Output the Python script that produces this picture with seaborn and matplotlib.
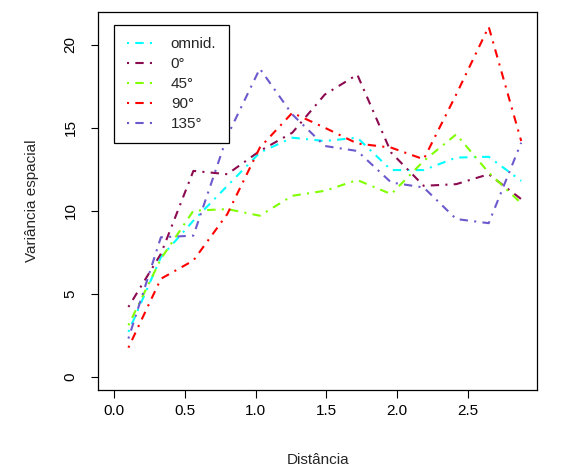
import matplotlib
matplotlib.use("Agg")
import matplotlib.pyplot as plt
import seaborn as sns
import pandas as pd
import numpy as np

# lag distances
lags = [0.10, 0.33, 0.56, 0.80, 1.03, 1.26, 1.49, 1.72, 1.96, 2.19, 2.42, 2.65, 2.88]

omnid = [2.7, 7.2, 9.4, 11.5, 13.5, 14.4, 14.2, 14.4, 12.45, 12.45, 13.2, 13.25, 11.8]
deg0 = [4.2, 7.4, 12.4, 12.2, 13.6, 14.7, 17.0, 18.2, 13.5, 11.5, 11.6, 12.2, 10.7]
deg45 = [3.1, 7.1, 10.0, 10.1, 9.7, 10.9, 11.2, 11.85, 11.0, 13.0, 14.6, 12.3, 10.45]
deg90 = [1.75, 5.9, 7.0, 9.8, 13.8, 15.9, 15.0, 14.05, 13.8, 13.1, 17.0, 21.08, 14.2]
deg135 = [2.3, 8.4, 8.5, 14.5, 18.56, 15.8, 13.9, 13.6, 11.7, 11.4, 9.5, 9.25, 14.1]

labels = ["omnid.", "0\u00b0", "45\u00b0", "90\u00b0", "135\u00b0"]
colors = ["#00FFFF", "#8B0A50", "#7FFF00", "#FF0000", "#6A5ACD"]
series = [omnid, deg0, deg45, deg90, deg135]

xticks = [0.0, 0.5, 1.0, 1.5, 2.0, 2.5]
xticklabels = ["0.0", "0.5", "1.0", "1.5", "2.0", "2.5"]
yticks = [0, 5, 10, 15, 20]
yticklabels = ["0", "5", "10", "15", "20"]

sns.set_theme(style="ticks")
plt.rcParams['font.family'] = ['Liberation Sans', 'DejaVu Sans']

W, H = 578, 472
fig = plt.figure(figsize=(W / 100, H / 100), dpi=100)
ax = fig.add_axes([98.3 / W, 1 - 390 / H, (537.3 - 98.3) / W, (390 - 11.7) / H])

df = pd.DataFrame({
    "dist": np.tile(lags, len(series)),
    "val": np.concatenate([np.array(s) for s in series]),
    "dir": np.repeat(labels, len(lags)),
})

lw = 1.5
sns.lineplot(data=df, x="dist", y="val", hue="dir", style="dir",
             hue_order=labels, style_order=labels,
             palette=dict(zip(labels, colors)),
             dashes=[(1, 3, 4, 3)] * len(labels),
             linewidth=lw, ax=ax, legend=True, sort=False, estimator=None)

ax.set_xlim(-0.113, 2.994)
ax.set_ylim(-0.80, 21.99)
ax.set_xticks(xticks)
ax.set_xticklabels(xticklabels)
ax.set_yticks(yticks)
ax.set_yticklabels(yticklabels, rotation=90, va="center")
fs = 11
ax.tick_params(axis="both", direction="out", length=5.4, width=0.8, colors="black",
               labelsize=fs)
ax.tick_params(axis="x", pad=4.5)
ax.tick_params(axis="y", pad=9.5)
for sp in ax.spines.values():
    sp.set_visible(True)
    sp.set_color("black")
    sp.set_linewidth(0.9)
ax.set_facecolor("white")
fig.patch.set_facecolor("white")

ax.set_xlabel("")
ax.set_ylabel("")
fig.text(317.8 / W, 1 - 460 / H, "Dist\u00e2ncia", ha="center", va="center", fontsize=fs)
fig.text(31.7 / W, 1 - 201 / H, "Vari\u00e2ncia espacial", ha="center", va="center",
         rotation=90, fontsize=fs)

handles, hl = ax.get_legend_handles_labels()
leg = ax.legend(handles, hl, loc="upper left",
                bbox_to_anchor=(114.3 / W, 1 - 25 / H), bbox_transform=fig.transFigure,
                borderaxespad=0, frameon=True, fancybox=False, fontsize=fs,
                handlelength=1.7, handletextpad=1.2, labelspacing=0.39, borderpad=0.8)
leg.get_frame().set_edgecolor("black")
leg.get_frame().set_linewidth(0.9)
leg.get_frame().set_alpha(1)

fig.savefig("out.png", dpi=100, facecolor="white")
